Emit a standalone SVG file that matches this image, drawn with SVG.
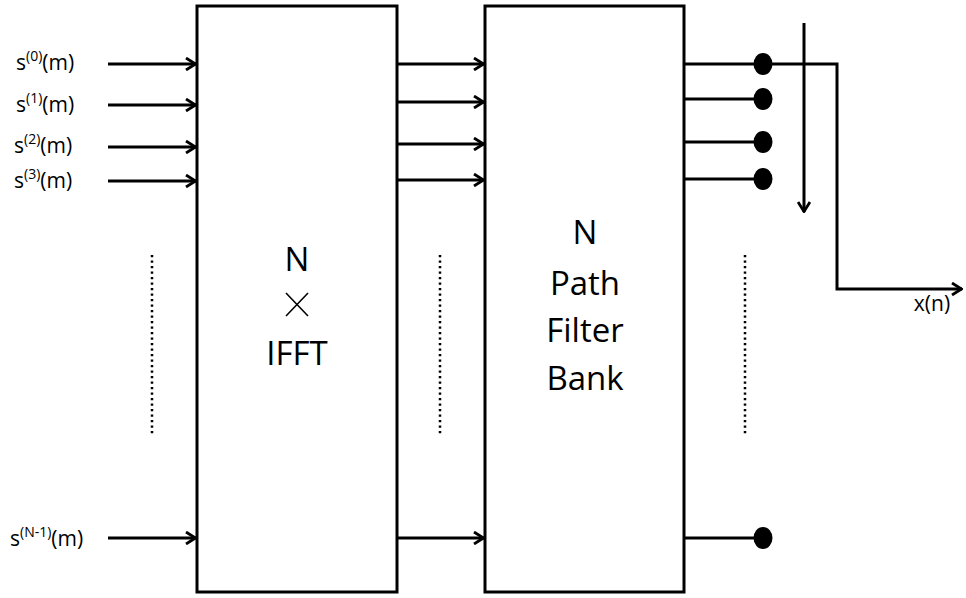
<svg xmlns="http://www.w3.org/2000/svg" width="966" height="598" viewBox="0 0 966 598">
<defs>
<style>
.box{fill:#fff;stroke:#000;stroke-width:3}
.ln{fill:none;stroke:#000;stroke-width:3}
.arr{fill:none;stroke:#000;stroke-width:3;marker-end:url(#ah)}
.dot{fill:none;stroke:#000;stroke-width:2.5;stroke-dasharray:2.2 3.3}
.t{font-family:"Open Sans","Liberation Sans",sans-serif;fill:#000}
.big{font-size:33px;text-anchor:middle}
.lab{font-size:21px}
.sup{font-size:14px}
</style>
<marker id="ah" viewBox="0 0 12 14" refX="11" refY="7" markerWidth="12" markerHeight="14" markerUnits="userSpaceOnUse" orient="auto">
<path d="M1,1 L10.5,7 L1,13" fill="none" stroke="#000" stroke-width="2.8"/>
</marker>
</defs>
<g id="ifft">
<rect class="box" x="197" y="6" width="200" height="586"/>
<text class="t big" x="297" y="271">N</text>
<path d="M286,293 L308,316 M308,293 L286,316" stroke="#000" stroke-width="1.6" fill="none"/>
<text class="t big" x="297" y="365">IFFT</text>
</g>
<g id="filterbank">
<rect class="box" x="485" y="6" width="199" height="586"/>
<text class="t big" x="585" y="244">N</text>
<text class="t big" x="585" y="295">Path</text>
<text class="t big" x="585" y="342">Filter</text>
<text class="t big" x="585" y="390">Bank</text>
</g>
<g id="labels">
<text class="t lab" x="16" y="70">s<tspan class="sup" dy="-9">(0)</tspan><tspan dy="9">(m)</tspan></text>
<text class="t lab" x="16" y="112">s<tspan class="sup" dy="-9">(1)</tspan><tspan dy="9">(m)</tspan></text>
<text class="t lab" x="14" y="153">s<tspan class="sup" dy="-9">(2)</tspan><tspan dy="9">(m)</tspan></text>
<text class="t lab" x="14" y="188">s<tspan class="sup" dy="-9">(3)</tspan><tspan dy="9">(m)</tspan></text>
<text class="t lab" x="10" y="546">s<tspan class="sup" dy="-9">(N-1)</tspan><tspan dy="9">(m)</tspan></text>
<text class="t lab" x="932" y="311" text-anchor="middle">x(n)</text>
</g>
<g id="commutator">
<ellipse cx="763" cy="64" rx="9.5" ry="11"/>
<ellipse cx="763" cy="99" rx="9.5" ry="11"/>
<ellipse cx="763" cy="142" rx="9.5" ry="11"/>
<ellipse cx="763" cy="179" rx="9.5" ry="11"/>
<ellipse cx="763" cy="538" rx="9.5" ry="11"/>
</g>
<g id="connectors">
<line class="arr" x1="108" y1="64" x2="196" y2="64"/>
<line class="arr" x1="108" y1="105" x2="196" y2="105"/>
<line class="arr" x1="108" y1="147" x2="196" y2="147"/>
<line class="arr" x1="108" y1="181" x2="196" y2="181"/>
<line class="arr" x1="108" y1="538" x2="196" y2="538"/>
<line class="arr" x1="398" y1="64" x2="484" y2="64"/>
<line class="arr" x1="398" y1="102" x2="484" y2="102"/>
<line class="arr" x1="398" y1="144" x2="484" y2="144"/>
<line class="arr" x1="398" y1="180" x2="484" y2="180"/>
<line class="arr" x1="398" y1="538" x2="484" y2="538"/>
<line class="ln" x1="685" y1="99" x2="763" y2="99"/>
<line class="ln" x1="685" y1="142" x2="763" y2="142"/>
<line class="ln" x1="685" y1="179" x2="763" y2="179"/>
<line class="ln" x1="685" y1="538" x2="763" y2="538"/>
<polyline class="ln" points="685,64 837,64 837,289 962,289" marker-end="url(#ah)"/>
<line class="arr" x1="804" y1="23" x2="804" y2="212"/>
<line class="dot" x1="152" y1="255" x2="152" y2="436"/>
<line class="dot" x1="440" y1="255" x2="440" y2="436"/>
<line class="dot" x1="745" y1="255" x2="745" y2="436"/>
</g>
</svg>
